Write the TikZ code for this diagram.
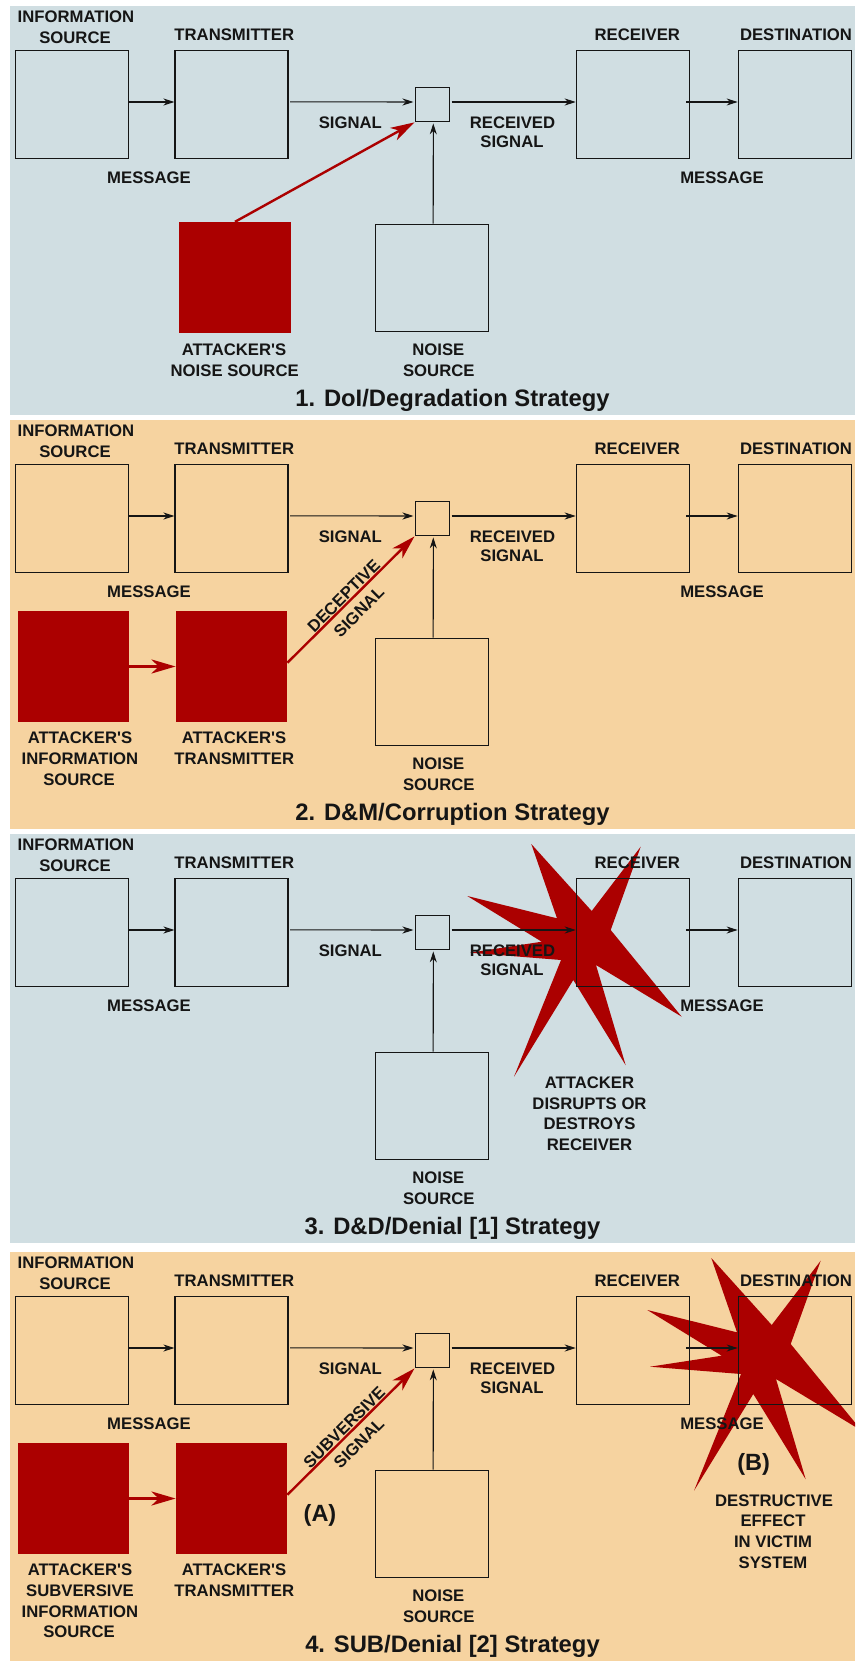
\documentclass[tikz,border=0pt]{standalone}
\usepackage{fontspec}
\setmainfont{Liberation Sans}
\usetikzlibrary{arrows.meta}
\definecolor{panelblue}{HTML}{D0DEE2}
\definecolor{panelorange}{HTML}{F6D3A0}
\definecolor{attackred}{HTML}{AB0000}
\definecolor{ink}{HTML}{151515}
\tikzset{
  x=1pt,y=-1pt,
  blockbox/.style={draw=ink,line width=1.1pt,inner sep=0pt,minimum width=113pt,minimum height=107.5pt},
  mixbox/.style={draw=ink,line width=1.1pt,inner sep=0pt,minimum width=34.5pt,minimum height=34.5pt},
  redbox/.style={fill=attackred,inner sep=0pt,minimum width=111.5pt,minimum height=111pt},
  lab/.style={inner sep=0pt,text=ink,font=\fontsize{16.7}{20}\selectfont\bfseries,text height=12.2pt,text depth=0pt,anchor=center},
  ttl/.style={inner sep=0pt,text=ink,font=\fontsize{23.8}{26}\selectfont\bfseries,text height=17pt,text depth=0pt,anchor=center},
  tagmark/.style={inner sep=0pt,text=ink,font=\fontsize{23.5}{26}\selectfont\bfseries,text height=17pt,text depth=0pt,anchor=center},
  flow/.style={draw=ink,line width=1.05pt,-{Stealth[length=11pt,width=7pt,inset=3.5pt]}},
  redflow/.style={draw=attackred,line width=2.4pt,-{Stealth[length=24pt,width=14pt,inset=7pt]}},
  starshape/.style={fill=attackred,draw=none},
}
\newcommand{\lb}[4]{\node[lab] (#1) at (#2,#3) {#4};}
\newcommand{\panelbg}[2]{\fill[#2] (10,#1) rectangle (855,#1+409);}
\newcommand{\burst}{%
  \fill[starshape] (531.3,10) -- (591.7,77) -- (640.7,12.7) -- (610.7,96) -- (681.7,182.7) -- (596,131) -- (625.7,231.3) -- (573.3,146) -- (514,242.7) -- (561,126) -- (470,118.7) -- (541.7,107.7) -- (467.3,62) -- (557,84.3) -- cycle;}
% #1 prefix, #2 title
\newcommand{\base}[2]{%
  \node[blockbox] (#1info) at (72.2,98.5) {};
  \node[blockbox] (#1tx) at (231.5,98.5) {};
  \node[mixbox] (#1mix) at (432.3,98.6) {};
  \node[blockbox] (#1rx) at (632.8,98.5) {};
  \node[blockbox] (#1dst) at (794.7,98.5) {};
  \node[blockbox] (#1noise) at (432.2,272) {};
  \draw[flow] ([yshift=2.5pt]#1info.east) -- ([yshift=2.5pt]#1tx.west);
  \draw[flow] ([xshift=1.5pt,yshift=2.6pt]#1tx.east) -- ([xshift=-1pt,yshift=2.6pt]#1mix.west);
  \draw[flow] ([xshift=1.5pt,yshift=2.6pt]#1mix.east) -- ([yshift=2.5pt]#1rx.west);
  \draw[flow] ([xshift=-3.5pt,yshift=2.5pt]#1rx.east) -- ([yshift=2.5pt]#1dst.west);
  \draw[flow] ([xshift=1pt]#1noise.north) -- ([xshift=1pt,yshift=-1pt]#1mix.south);
  \lb{#1a}{76}{10}{INFORMATION}
  \lb{#1b}{75}{31}{SOURCE}
  \lb{#1c}{234.3}{28}{TRANSMITTER}
  \lb{#1d}{149}{171}{MESSAGE}
  \lb{#1e}{350.3}{116}{SIGNAL}
  \lb{#1f}{512.5}{116}{RECEIVED}
  \lb{#1g}{512}{135}{SIGNAL}
  \lb{#1h}{637.3}{28}{RECEIVER}
  \lb{#1i}{796}{28}{DESTINATION}
  \lb{#1j}{722}{171}{MESSAGE}
  \lb{#1k}{438.3}{343}{NOISE}
  \lb{#1l}{438.8}{364}{SOURCE}
  \node[ttl] (#1title) at (452.5,391.5) {#2};}
% attacker transmitter chain, #1 prefix
\newcommand{\attackchain}[1]{%
  \node[redbox] (#1asrc) at (73.5,246.5) {};
  \node[redbox] (#1atx) at (231.5,246.5) {};
  \draw[redflow] (#1asrc.east) -- (#1atx.west);
  \draw[redflow] ([yshift=3.8pt]#1atx.east) -- (#1mix.south west);
  \lb{#1m}{80}{317}{ATTACKER\textquotesingle S}
  \lb{#1n}{234}{317}{ATTACKER\textquotesingle S}
  \lb{#1o}{234.3}{338}{TRANSMITTER}}
\begin{document}
\begin{tikzpicture}
\useasboundingbox (0,0) rectangle (855,1661);
% Panel 1
\panelbg{6}{panelblue}
\begin{scope}[shift={(0,6)}]
  \base{p}{1. DoI/Degradation Strategy}
  \node[redbox] (patk) at (235,271.5) {};
  \draw[redflow] (patk.north) -- (pmix.south west);
  \lb{pm}{234}{343}{ATTACKER\textquotesingle S}
  \lb{pn}{234.7}{364}{NOISE SOURCE}
\end{scope}
% Panel 2
\panelbg{420}{panelorange}
\begin{scope}[shift={(0,420)}]
  \base{q}{2. D\&M/Corruption Strategy}
  \attackchain{q}
  \lb{qp}{80}{338}{INFORMATION}
  \lb{qq}{79}{359}{SOURCE}
  \node[lab,rotate=45] (qr) at (343.4,175.7) {DECEPTIVE};
  \node[lab,rotate=45] (qs) at (358.7,191.7) {SIGNAL};
\end{scope}
% Panel 3
\panelbg{834}{panelblue}
\begin{scope}[shift={(0,834)}]
  \burst
  \base{r}{3. D\&D/Denial [1] Strategy}
  \lb{rm}{589.5}{248}{ATTACKER}
  \lb{rn}{589.5}{269}{DISRUPTS OR}
  \lb{ro}{589.5}{289}{DESTROYS}
  \lb{rp}{589.5}{310}{RECEIVER}
\end{scope}
% Panel 4
\panelbg{1252}{panelorange}
\begin{scope}[shift={(0,1252)}]
  \begin{scope}
    \clip (10,0) rectangle (855,409);
    \begin{scope}[shift={(180,-4)}]
      \burst
    \end{scope}
  \end{scope}
  \base{s}{4. SUB/Denial [2] Strategy}
  \attackchain{s}
  \lb{sp}{80}{338}{SUBVERSIVE}
  \lb{sq}{80}{359}{INFORMATION}
  \lb{sr}{79}{379}{SOURCE}
  \node[lab,rotate=45] (st) at (344,175) {SUBVERSIVE};
  \node[lab,rotate=45] (su) at (358.7,191) {SIGNAL};
  \node[tagmark] (sA) at (320,261) {(A)};
  \node[tagmark] (sB) at (753.7,210) {(B)};
  \lb{sv}{774}{248}{DESTRUCTIVE}
  \lb{sw}{773}{268.5}{EFFECT}
  \lb{sx}{773}{289}{IN VICTIM}
  \lb{sy}{773}{310}{SYSTEM}
\end{scope}
\end{tikzpicture}
\end{document}
